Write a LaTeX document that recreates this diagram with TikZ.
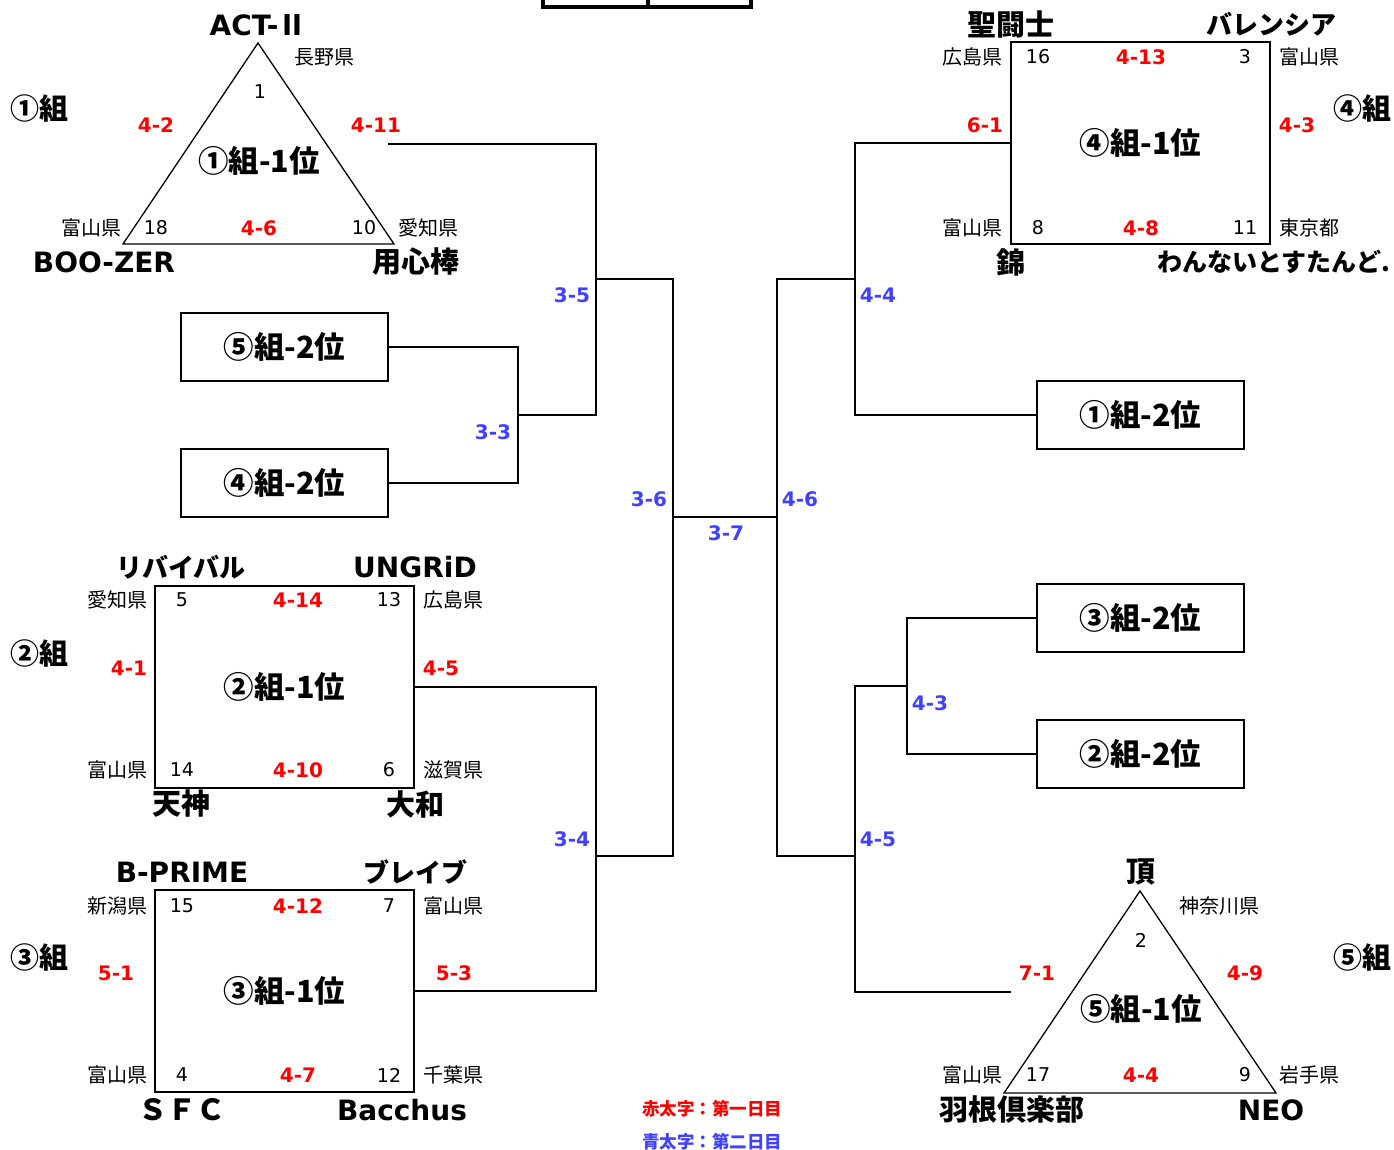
\documentclass[tikz,border=0pt]{standalone}
\usepackage{fontspec}
\setmainfont{DejaVu Sans}
\newfontfamily\jp{Noto Sans CJK JP}
\definecolor{rd}{RGB}{255,0,0}
\definecolor{bl}{RGB}{64,64,255}
\begin{document}
\begin{tikzpicture}[x=1pt,y=-1pt,
  every node/.style={inner sep=0pt, outer sep=0pt},
  pref/.style={font=\jp\fontsize{20}{20}\selectfont},
  num/.style={font=\fontsize{19}{19}\selectfont},
  sc/.style={font=\bfseries\fontsize{20}{20}\selectfont, text=rd},
  rnd/.style={font=\bfseries\fontsize{20}{20}\selectfont, text=bl},
  tl/.style={font=\bfseries\fontsize{28}{28}\selectfont},
  tj/.style={font=\jp\bfseries\fontsize{29}{29}\selectfont},
  tk/.style={font=\jp\bfseries\fontsize{26}{26}\selectfont},
  grp/.style={font=\jp\bfseries\fontsize{29}{29}\selectfont},
  rank/.style={font=\jp\bfseries\fontsize{30.5}{30}\selectfont},
  bigbox/.style={draw, line width=2pt, minimum width=259pt, minimum height=202pt, rank},
  smallbox/.style={draw, line width=2pt, minimum width=207pt, minimum height=68pt, rank},
  wire/.style={line width=2pt},
  tri/.style={line width=1.3pt, line join=miter},
  legend/.style={font=\jp\bfseries\fontsize{17.5}{18}\selectfont},
]
\useasboundingbox (0,0) rectangle (1394,1150);

% top stub
\draw[line width=3.3pt] (543,-10) -- (543,7) -- (751,7) -- (751,-10);
\draw[line width=3.3pt] (648,-10) -- (648,7);

% ===== Group 1 (triangle) =====
\coordinate (t1a) at (258,43);
\coordinate (t1b) at (123,244);
\coordinate (t1c) at (394,244);
\draw[tri] (t1a) -- (t1b) -- (t1c) -- cycle;
\node[tl] (t1top) at (258,25) {ACT-{\jp Ⅱ}};
\node[pref] (p1top) at (324,57) {長野県};
\node[num] (n1top) at (260,92) {1};
\node[grp] (g1) at (39,108) {①組};
\node[sc] (s1l) at (156,125) {4-2};
\node[sc] (s1r) at (376,125) {4-11};
\node[rank] (k1) at (259,161) {①組-1位};
\node[pref] (p1bl) at (91,228) {富山県};
\node[num] (n1bl) at (156,228) {18};
\node[sc] (s1b) at (259,228) {4-6};
\node[num] (n1br) at (364,228) {10};
\node[pref] (p1br) at (428,228) {愛知県};
\node[tl] (t1bl) at (104,262) {BOO-ZER};
\node[tj] (t1br) at (416,262) {用心棒};
\coordinate (g1out) at (388,144);

% ===== Group 4 (box) =====
\node[bigbox] (b4) at (1140.5,143) {④組-1位};
\node[tj] (t4tl) at (1011,24) {聖闘士};
\node[tk] (t4tr) at (1271,24) {バレンシア};
\node[pref] (p4tl) at (972,57) {広島県};
\node[num] (n4tl) at (1038,57) {16};
\node[sc] (s4t) at (1141,57) {4-13};
\node[num] (n4tr) at (1245,57) {3};
\node[pref] (p4tr) at (1309,57) {富山県};
\node[grp] (g4) at (1362,108) {④組};
\node[sc] (s4l) at (985,125) {6-1};
\node[sc] (s4r) at (1297,125) {4-3};
\node[pref] (p4bl) at (972,228) {富山県};
\node[num] (n4bl) at (1038,228) {8};
\node[sc] (s4b) at (1141,228) {4-8};
\node[num] (n4br) at (1245,228) {11};
\node[pref] (p4br) at (1309,228) {東京都};
\node[tj] (t4bl) at (1011,262) {錦};
\node[tk, font=\jp\bfseries\fontsize{25}{25}\selectfont, anchor=east] (t4br) at (1390,262) {わんないとすたんど.};

% ===== Group 2 (box) =====
\node[bigbox] (b2) at (284.5,686.5) {②組-1位};
\node[tk] (t2tl) at (181,567) {リバイバル};
\node[tl] (t2tr) at (415,567) {UNGRiD};
\node[pref] (p2tl) at (117,600) {愛知県};
\node[num] (n2tl) at (182,600) {5};
\node[sc] (s2t) at (298,600) {4-14};
\node[num] (n2tr) at (389,600) {13};
\node[pref] (p2tr) at (453,600) {広島県};
\node[grp] (g2) at (39,653) {②組};
\node[sc] (s2l) at (129,668) {4-1};
\node[sc] (s2r) at (441,668) {4-5};
\node[pref] (p2bl) at (117,770) {富山県};
\node[num] (n2bl) at (182,770) {14};
\node[sc] (s2b) at (298,770) {4-10};
\node[num] (n2br) at (389,770) {6};
\node[pref] (p2br) at (453,770) {滋賀県};
\node[tj] (t2bl) at (181,804) {天神};
\node[tj] (t2br) at (415,804) {大和};

% ===== Group 3 (box) =====
\node[bigbox] (b3) at (284.5,991) {③組-1位};
\node[tl] (t3tl) at (182,872) {B-PRIME};
\node[tk] (t3tr) at (415,872) {ブレイブ};
\node[pref] (p3tl) at (117,906) {新潟県};
\node[num] (n3tl) at (182,906) {15};
\node[sc] (s3t) at (298,906) {4-12};
\node[num] (n3tr) at (389,906) {7};
\node[pref] (p3tr) at (453,906) {富山県};
\node[grp] (g3) at (39,957) {③組};
\node[sc] (s3l) at (116,973) {5-1};
\node[sc] (s3r) at (454,973) {5-3};
\node[pref] (p3bl) at (117,1075) {富山県};
\node[num] (n3bl) at (182,1075) {4};
\node[sc] (s3b) at (298,1075) {4-7};
\node[num] (n3br) at (389,1075) {12};
\node[pref] (p3br) at (453,1075) {千葉県};
\node[tj] (t3bl) at (182,1110) {ＳＦＣ};
\node[tl] (t3br) at (402,1110) {Bacchus};

% ===== Group 5 (triangle) =====
\coordinate (t5a) at (1140,891);
\coordinate (t5b) at (1004,1093);
\coordinate (t5c) at (1276,1093);
\draw[tri] (t5a) -- (t5b) -- (t5c) -- cycle;
\node[tj] (t5top) at (1141,872) {頂};
\node[pref] (p5top) at (1219,906) {神奈川県};
\node[num] (n5top) at (1141,940) {2};
\node[grp] (g5) at (1362,957) {⑤組};
\node[sc] (s5l) at (1037,973) {7-1};
\node[sc] (s5r) at (1245,973) {4-9};
\node[rank] (k5) at (1141,1009) {⑤組-1位};
\node[pref] (p5bl) at (972,1075) {富山県};
\node[num] (n5bl) at (1038,1075) {17};
\node[sc] (s5b) at (1141,1075) {4-4};
\node[num] (n5br) at (1245,1075) {9};
\node[pref] (p5br) at (1309,1075) {岩手県};
\node[tj] (t5bl) at (1012,1110) {羽根倶楽部};
\node[tl] (t5br) at (1271,1110) {NEO};
\coordinate (g5out) at (1011,992);

% ===== second-place boxes =====
\node[smallbox] (r5) at (284.5,347) {⑤組-2位};
\node[smallbox] (r4) at (284.5,483) {④組-2位};
\node[smallbox] (r1) at (1140.5,415) {①組-2位};
\node[smallbox] (r3) at (1140.5,618) {③組-2位};
\node[smallbox] (r2) at (1140.5,754) {②組-2位};

% ===== bracket junctions =====
\coordinate (a35) at (596,279);
\coordinate (a33) at (518,415);
\coordinate (a34) at (596,856);
\coordinate (a37l) at (673,517);
\coordinate (a37r) at (777,517);
\coordinate (a44) at (855,279);
\coordinate (a45) at (855,856);
\coordinate (a43) at (907,686);

\draw[wire] (g1out) -| (a35) |- (a33);
\draw[wire] (r5.east) -| (a33) |- (r4.east);
\draw[wire] (a35) -| (a37l) |- (a34);
\draw[wire] (b2.east) -| (a34) |- (b3.east);
\draw[wire] (a37l) -- (a37r);
\draw[wire] (a44) -| (a37r) |- (a45);
\draw[wire] (b4.west) -| (a44) |- (r1.west);
\draw[wire] (a43) -| (a45) |- (g5out);
\draw[wire] (r3.west) -| (a43) |- (r2.west);

% ===== round labels =====
\node[rnd] (m35) at (572,295) {3-5};
\node[rnd] (m33) at (493,432) {3-3};
\node[rnd] (m36) at (649,499) {3-6};
\node[rnd] (m37) at (726,533) {3-7};
\node[rnd] (m46) at (800,499) {4-6};
\node[rnd] (m34) at (572,839) {3-4};
\node[rnd] (m44) at (878,295) {4-4};
\node[rnd] (m43) at (930,703) {4-3};
\node[rnd] (m45) at (878,839) {4-5};

% ===== legend =====
\node[legend, text=rd] (leg1) at (712,1109) {赤太字：第一日目};
\node[legend, text=bl] (leg2) at (712,1142) {青太字：第二日目};
\end{tikzpicture}
\end{document}
